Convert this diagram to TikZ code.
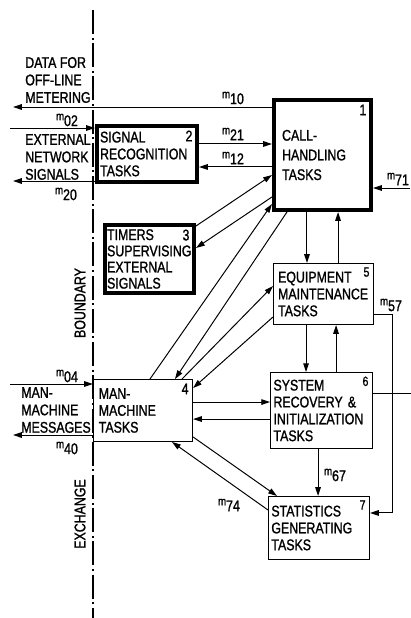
\documentclass[tikz,border=0pt]{standalone}
\usepackage{fontspec}
\setmainfont{Liberation Sans}[FakeStretch=0.8, FakeBold=1.2]
\usetikzlibrary{arrows.meta, calc}

\newcommand{\msg}[1]{\raisebox{4.2pt}{\fontsize{8.5}{8.5}\selectfont m}#1}

\begin{document}
\begin{tikzpicture}[x=0.025cm, y=-0.025cm,
    box/.style={rectangle, draw, line width=0.9pt, align=left, inner ysep=0pt, font=\fontsize{11}{12}\selectfont},
    thickbox/.style={box, line width=3pt},
    num/.style={anchor=north east, inner sep=3pt, font=\fontsize{11}{12}\selectfont},
    numthick/.style={num, inner sep=4.5pt},
    numsmall/.style={num, font=\fontsize{9.5}{10}\selectfont},
    side/.style={align=left, inner sep=0pt, anchor=west, font=\fontsize{11}{12.4}\selectfont},
    wall/.style={rotate=90, inner sep=0pt, font=\fontsize{11}{12}\selectfont},
    mlbl/.style={inner sep=0pt, font=\fontsize{11}{12}\selectfont},
    arr/.style={-{Triangle[length=2.2mm, width=1.4mm]}, line width=0.7pt},
    plain/.style={line width=0.7pt},
    bound/.style={line width=1.1pt, dash pattern=on 6mm off 0.9mm on 0.5mm off 0.9mm}
]
    \useasboundingbox (0,0) rectangle (411,618);

    % exchange boundary
    \draw[bound] (93,10) -- (93,618);
    \node[wall] (wall_top) at (80,303) {BOUNDARY};
    \node[wall] (wall_bot) at (80,514) {EXCHANGE};

    % outside the exchange
    \node[side] (metering) at (25,80) {DATA FOR\\OFF-LINE\\METERING};
    \node[side] (network) at (25,157) {EXTERNAL\\NETWORK\\SIGNALS};
    \node[side] (messages) at (21,410) {MAN-\\MACHINE\\MESSAGES};

    % task boxes
    \node[thickbox, minimum width=2.42cm, minimum height=2.745cm, inner xsep=0.2cm, text width=2.02cm, font=\fontsize{11}{14}\selectfont, label={[numthick]north east:1}] (call) at (322.5,155) {CALL-\\HANDLING\\TASKS};
    \node[thickbox, minimum width=2.495cm, minimum height=1.395cm, inner xsep=0.075cm, text width=2.345cm, label={[numthick]north east:2}] (sig) at (147,154) {SIGNAL\\RECOGNITION\\TASKS};
    \node[thickbox, minimum width=2.22cm, minimum height=1.695cm, inner xsep=0.05cm, text width=2.12cm, font=\fontsize{11}{11.5}\selectfont, label={[numthick]north east:3}] (tim) at (149.5,259) {TIMERS\\SUPERVISING\\EXTERNAL\\SIGNALS};
    \node[box, minimum width=2.47cm, minimum height=1.54cm, inner xsep=0.13cm, text width=2.21cm, label={[num]north east:4}] (mm) at (143,410.5) {MAN-\\MACHINE\\TASKS};
    \node[box, minimum width=2.49cm, minimum height=1.52cm, inner xsep=0.11cm, text width=2.27cm, label={[numsmall]north east:5}] (eqp) at (323.5,294) {EQUIPMENT\\MAINTENANCE\\TASKS};
    \node[box, minimum width=2.54cm, minimum height=1.89cm, inner xsep=0.07cm, text width=2.40cm, label={[numsmall]north east:6}] (rec) at (321.5,410.5) {SYSTEM\\RECOVERY \&\\INITIALIZATION\\TASKS};
    \node[box, minimum width=2.52cm, minimum height=1.57cm, inner xsep=0.07cm, text width=2.38cm, label={[numsmall]north east:7}] (stat) at (319,528) {STATISTICS\\GENERATING\\TASKS};

    % free ends at the edges
    \coordinate (out10) at (13,107);
    \coordinate (in02) at (10,128);
    \coordinate (out20) at (13,181);
    \coordinate (in04) at (10,384);
    \coordinate (out40) at (13,435);
    \coordinate (in71) at (410,188);
    \coordinate (out6) at (411,393);

    \draw[arr] (call.west |- out10) -- (out10);
    \draw[arr] (in02) -- (sig.west |- in02);
    \draw[arr] (sig.west |- out20) -- (out20);
    \draw[arr] (in04) -- (mm.west |- in04);
    \draw[arr] (mm.west |- out40) -- (out40);
    \draw[arr] (in71) -- (call.east |- in71);
    \draw[plain] (rec.east |- out6) -- (out6);

    % between the tasks
    \draw[arr] ($(sig.north east)+(0,20)$) coordinate (h21) -- (h21 -| call.west);
    \draw[arr] ($(call.north west)+(0,69)$) coordinate (h12) -- (h12 -| sig.east);
    \draw[arr] ($(tim.north east)+(0,3)$) -- ($(call.north west)+(0,77)$);
    \draw[arr] ($(call.north west)+(0,99)$) -- ($(tim.north east)+(0,25)$);
    \draw[arr] ($(mm.north west)+(57,0)$) -- ($(call.south west)+(0,-8)$);
    \draw[arr] ($(call.south west)+(15,0)$) -- ($(mm.north west)+(82,0)$);
    \draw[arr] ($(mm.north west)+(89,0)$) -- ($(eqp.north west)+(0,23)$);
    \draw[arr] ($(eqp.north west)+(0,54)$) -- ($(mm.north east)+(0,9)$);
    \draw[arr] ($(mm.north east)+(0,23)$) coordinate (h46) -- (h46 -| rec.west);
    \draw[arr] ($(rec.north west)+(0,47)$) coordinate (h64) -- (h64 -| mm.east);
    \draw[arr] ($(mm.south east)+(0,-5)$) -- ($(stat.north west)+(9,0)$);
    \draw[arr] ($(stat.north west)+(0,14)$) -- ($(mm.south west)+(79,0)$);
    \draw[arr] ($(call.south west)+(35,0)$) coordinate (v15) -- (v15 |- eqp.north);
    \draw[arr] ($(eqp.north west)+(65,0)$) coordinate (v51) -- (v51 |- call.south);
    \draw[arr] ($(eqp.south west)+(33,0)$) coordinate (v56) -- (v56 |- rec.north);
    \draw[arr] ($(rec.north west)+(66,0)$) coordinate (v65) -- (v65 |- eqp.south);
    \draw[arr] ($(rec.south west)+(48,0)$) coordinate (v67) -- (v67 |- stat.north);
    \draw[arr] ($(eqp.north east)+(0,52)$) -- ++(19,0) |- ($(stat.north east)+(0,17)$);

    % message names
    \node[mlbl] (l10) at (233,98) {\msg{10}};
    \node[mlbl] (l02) at (67,120) {\msg{02}};
    \node[mlbl] (l20) at (66,194) {\msg{20}};
    \node[mlbl] (l21) at (233,134) {\msg{21}};
    \node[mlbl] (l12) at (233,158) {\msg{12}};
    \node[mlbl] (l71) at (398,179) {\msg{71}};
    \node[mlbl] (l57) at (391,305) {\msg{57}};
    \node[mlbl] (l67) at (335,475) {\msg{67}};
    \node[mlbl] (l74) at (229,505) {\msg{74}};
    \node[mlbl] (l04) at (67,376) {\msg{04}};
    \node[mlbl] (l40) at (67,448) {\msg{40}};
\end{tikzpicture}
\end{document}
